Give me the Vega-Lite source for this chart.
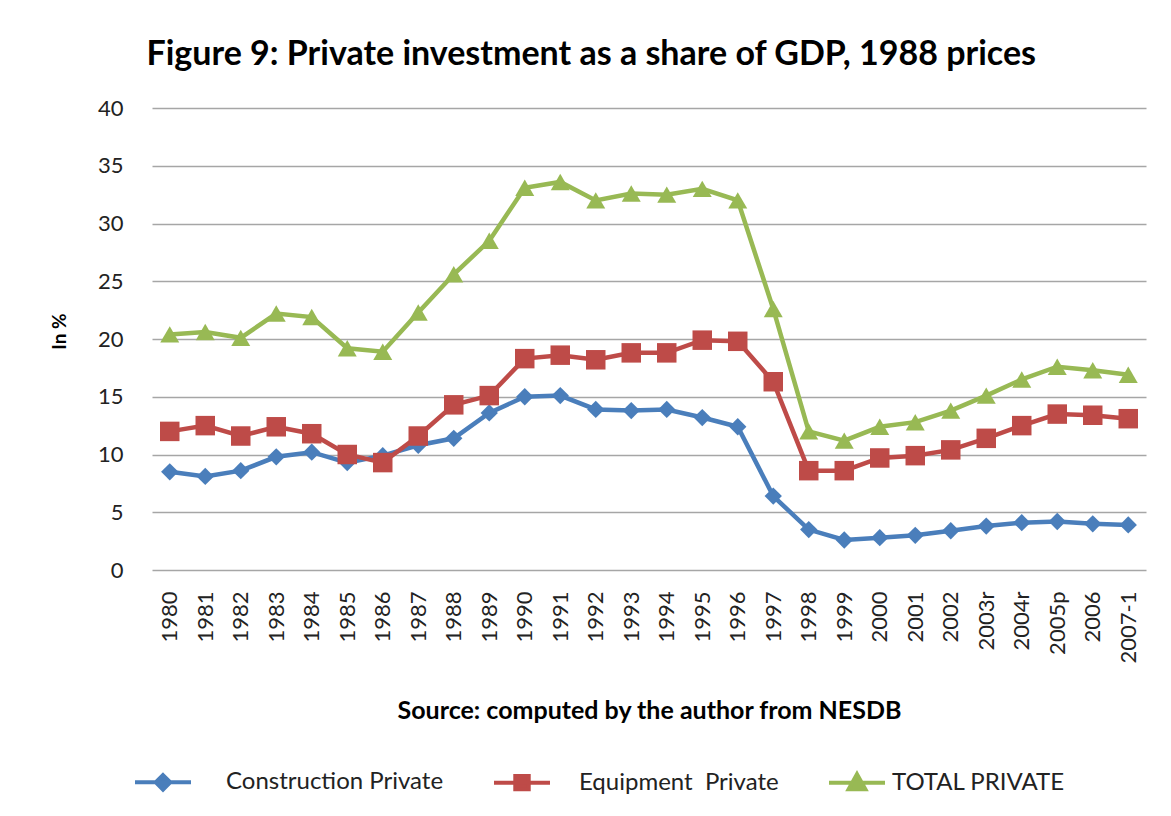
{
  "$schema": "https://vega.github.io/schema/vega-lite/v6.json",
  "width": 994,
  "height": 462,
  "autosize": {"type": "none"},
  "padding": {"left": 152, "top": 108, "right": 25, "bottom": 246},
  "background": "white",
  "title": {
    "text": "Figure 9: Private investment as a share of GDP, 1988 prices",
    "font": "Lato",
    "fontSize": 34,
    "fontWeight": "bold",
    "color": "#000000",
    "anchor": "middle",
    "frame": "bounds",
    "dx": -7,
    "offset": 25
  },
  "datasets": {
    "rows": [
      {"year": "1980", "series": "Construction Private", "value": 8.5},
      {"year": "1981", "series": "Construction Private", "value": 8.1},
      {"year": "1982", "series": "Construction Private", "value": 8.6},
      {"year": "1983", "series": "Construction Private", "value": 9.8},
      {"year": "1984", "series": "Construction Private", "value": 10.2},
      {"year": "1985", "series": "Construction Private", "value": 9.3},
      {"year": "1986", "series": "Construction Private", "value": 9.9},
      {"year": "1987", "series": "Construction Private", "value": 10.8},
      {"year": "1988", "series": "Construction Private", "value": 11.4},
      {"year": "1989", "series": "Construction Private", "value": 13.6},
      {"year": "1990", "series": "Construction Private", "value": 15.0},
      {"year": "1991", "series": "Construction Private", "value": 15.1},
      {"year": "1992", "series": "Construction Private", "value": 13.9},
      {"year": "1993", "series": "Construction Private", "value": 13.8},
      {"year": "1994", "series": "Construction Private", "value": 13.9},
      {"year": "1995", "series": "Construction Private", "value": 13.2},
      {"year": "1996", "series": "Construction Private", "value": 12.4},
      {"year": "1997", "series": "Construction Private", "value": 6.4},
      {"year": "1998", "series": "Construction Private", "value": 3.5},
      {"year": "1999", "series": "Construction Private", "value": 2.6},
      {"year": "2000", "series": "Construction Private", "value": 2.8},
      {"year": "2001", "series": "Construction Private", "value": 3.0},
      {"year": "2002", "series": "Construction Private", "value": 3.4},
      {"year": "2003r", "series": "Construction Private", "value": 3.8},
      {"year": "2004r", "series": "Construction Private", "value": 4.1},
      {"year": "2005p", "series": "Construction Private", "value": 4.2},
      {"year": "2006", "series": "Construction Private", "value": 4.0},
      {"year": "2007-1", "series": "Construction Private", "value": 3.9},
      {"year": "1980", "series": "Equipment Private", "value": 12.0},
      {"year": "1981", "series": "Equipment Private", "value": 12.5},
      {"year": "1982", "series": "Equipment Private", "value": 11.6},
      {"year": "1983", "series": "Equipment Private", "value": 12.4},
      {"year": "1984", "series": "Equipment Private", "value": 11.8},
      {"year": "1985", "series": "Equipment Private", "value": 10.0},
      {"year": "1986", "series": "Equipment Private", "value": 9.3},
      {"year": "1987", "series": "Equipment Private", "value": 11.6},
      {"year": "1988", "series": "Equipment Private", "value": 14.3},
      {"year": "1989", "series": "Equipment Private", "value": 15.1},
      {"year": "1990", "series": "Equipment Private", "value": 18.3},
      {"year": "1991", "series": "Equipment Private", "value": 18.6},
      {"year": "1992", "series": "Equipment Private", "value": 18.2},
      {"year": "1993", "series": "Equipment Private", "value": 18.8},
      {"year": "1994", "series": "Equipment Private", "value": 18.8},
      {"year": "1995", "series": "Equipment Private", "value": 19.9},
      {"year": "1996", "series": "Equipment Private", "value": 19.8},
      {"year": "1997", "series": "Equipment Private", "value": 16.3},
      {"year": "1998", "series": "Equipment Private", "value": 8.6},
      {"year": "1999", "series": "Equipment Private", "value": 8.6},
      {"year": "2000", "series": "Equipment Private", "value": 9.7},
      {"year": "2001", "series": "Equipment Private", "value": 9.9},
      {"year": "2002", "series": "Equipment Private", "value": 10.4},
      {"year": "2003r", "series": "Equipment Private", "value": 11.4},
      {"year": "2004r", "series": "Equipment Private", "value": 12.5},
      {"year": "2005p", "series": "Equipment Private", "value": 13.5},
      {"year": "2006", "series": "Equipment Private", "value": 13.4},
      {"year": "2007-1", "series": "Equipment Private", "value": 13.1},
      {"year": "1980", "series": "TOTAL PRIVATE", "value": 20.4},
      {"year": "1981", "series": "TOTAL PRIVATE", "value": 20.6},
      {"year": "1982", "series": "TOTAL PRIVATE", "value": 20.1},
      {"year": "1983", "series": "TOTAL PRIVATE", "value": 22.2},
      {"year": "1984", "series": "TOTAL PRIVATE", "value": 21.9},
      {"year": "1985", "series": "TOTAL PRIVATE", "value": 19.2},
      {"year": "1986", "series": "TOTAL PRIVATE", "value": 18.9},
      {"year": "1987", "series": "TOTAL PRIVATE", "value": 22.3},
      {"year": "1988", "series": "TOTAL PRIVATE", "value": 25.6},
      {"year": "1989", "series": "TOTAL PRIVATE", "value": 28.5},
      {"year": "1990", "series": "TOTAL PRIVATE", "value": 33.1},
      {"year": "1991", "series": "TOTAL PRIVATE", "value": 33.6},
      {"year": "1992", "series": "TOTAL PRIVATE", "value": 32.0},
      {"year": "1993", "series": "TOTAL PRIVATE", "value": 32.6},
      {"year": "1994", "series": "TOTAL PRIVATE", "value": 32.5},
      {"year": "1995", "series": "TOTAL PRIVATE", "value": 33.0},
      {"year": "1996", "series": "TOTAL PRIVATE", "value": 32.0},
      {"year": "1997", "series": "TOTAL PRIVATE", "value": 22.6},
      {"year": "1998", "series": "TOTAL PRIVATE", "value": 12.0},
      {"year": "1999", "series": "TOTAL PRIVATE", "value": 11.2},
      {"year": "2000", "series": "TOTAL PRIVATE", "value": 12.4},
      {"year": "2001", "series": "TOTAL PRIVATE", "value": 12.8},
      {"year": "2002", "series": "TOTAL PRIVATE", "value": 13.8},
      {"year": "2003r", "series": "TOTAL PRIVATE", "value": 15.1},
      {"year": "2004r", "series": "TOTAL PRIVATE", "value": 16.5},
      {"year": "2005p", "series": "TOTAL PRIVATE", "value": 17.6},
      {"year": "2006", "series": "TOTAL PRIVATE", "value": 17.3},
      {"year": "2007-1", "series": "TOTAL PRIVATE", "value": 16.9}
    ]
  },
  "data": {"name": "rows"},
  "encoding": {
    "x": {
      "field": "year",
      "type": "ordinal",
      "sort": null,
      "scale": {"paddingInner": 0, "paddingOuter": 0.5},
      "axis": {
        "title": "Source: computed by the author  from NESDB",
        "titleFont": "Lato",
        "titleFontSize": 25,
        "titleFontWeight": "bold",
        "titleColor": "#000000",
        "titlePadding": 36,
        "labelAngle": -90,
        "labelFont": "Lato",
        "labelFontSize": 22,
        "labelColor": "#222222",
        "labelPadding": 21,
        "ticks": false,
        "domain": false,
        "grid": false
      }
    },
    "y": {
      "field": "value",
      "type": "quantitative",
      "scale": {"domain": [0, 40], "nice": false},
      "axis": {
        "title": "In %",
        "titleFont": "Lato",
        "titleFontSize": 19,
        "titleFontWeight": "bold",
        "titleColor": "#000000",
        "titlePadding": 28,
        "titleY": 223,
        "values": [0, 5, 10, 15, 20, 25, 30, 35, 40],
        "labelFont": "Lato",
        "labelFontSize": 22,
        "labelColor": "#222222",
        "labelPadding": 29,
        "ticks": false,
        "domain": false,
        "grid": true,
        "gridColor": "#a6a6a6",
        "gridWidth": 1.5
      }
    },
    "color": {
      "field": "series",
      "type": "nominal",
      "scale": {
        "domain": ["Construction Private", "Equipment Private", "TOTAL PRIVATE"],
        "range": ["#4a7ebb", "#be4b48", "#98b954"]
      },
      "legend": {
        "orient": "none",
        "legendX": -19,
        "legendY": 644,
        "direction": "horizontal",
        "title": null,
        "labelFont": "Lato",
        "labelFontSize": 24,
        "labelColor": "#222222",
        "labelLimit": 0,
        "labelOffset": 5,
        "columnPadding": 42,
        "symbolSize": 3136,
        "symbolStrokeWidth": 4,
        "labelExpr": "datum.label === 'Equipment Private' ? 'Equipment\u00a0\u00a0Private' : datum.label",
        "encode": {
          "labels": {
            "update": {
              "dx": {"signal": "datum.value === 'Construction Private' ? 28 : datum.value === 'Equipment Private' ? 22 : 0"}
            }
          },
          "symbols": {
            "update": {
              "shape": {"signal": "datum.value === 'Construction Private' ? 'M-1,0L1,0M0,-0.26L0.26,0L0,0.26L-0.26,0Z' : datum.value === 'Equipment Private' ? 'M-1,0L1,0M-0.24,-0.24L0.24,-0.24L0.24,0.24L-0.24,0.24Z' : 'M-1,0L1,0M0,-0.3L0.3,0.24L-0.3,0.24Z'"},
              "stroke": {"scale": "color", "field": "value"},
              "fill": {"scale": "color", "field": "value"},
              "strokeWidth": {"value": 4},
              "opacity": {"value": 1}
            }
          }
        }
      }
    }
  },
  "layer": [
    {
      "mark": {"type": "line", "strokeWidth": 4.5}
    },
    {
      "transform": [{"filter": "datum.series === 'Construction Private'"}],
      "mark": {"type": "point", "filled": true, "opacity": 1, "shape": "diamond", "size": 300}
    },
    {
      "transform": [{"filter": "datum.series === 'Equipment Private'"}],
      "mark": {"type": "point", "filled": true, "opacity": 1, "shape": "square", "size": 380}
    },
    {
      "transform": [{"filter": "datum.series === 'TOTAL PRIVATE'"}],
      "mark": {"type": "point", "filled": true, "opacity": 1, "shape": "triangle-up", "size": 360}
    }
  ],
  "config": {
    "view": {"stroke": null}
  }
}
